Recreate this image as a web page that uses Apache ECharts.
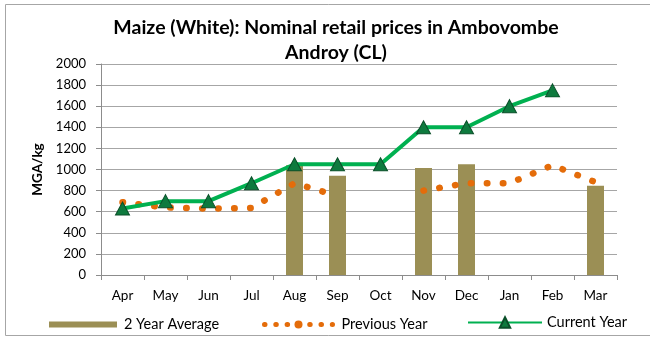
<!DOCTYPE html>
<html>
<head>
<meta charset="utf-8">
<script src="https://cdn.jsdelivr.net/npm/echarts@6/dist/echarts.min.js"></script>
<style>
  html, body { margin: 0; padding: 0; background: #fff; }
  #chart { width: 650px; height: 337px; }
</style>
</head>
<body>
<div id="chart"></div>
<script>
// Monthly retail prices of white maize, MGA per kg
const months = ['Apr', 'May', 'Jun', 'Jul', 'Aug', 'Sep', 'Oct', 'Nov', 'Dec', 'Jan', 'Feb', 'Mar'];
const twoYearAverage = [null, null, null, null, 1040, 940, null, 1015, 1050, null, null, 845];
const previousYear = [690, 640, 630, 635, 870, 750, null, 800, 870, 870, 1040, 880];
const currentYear = [630, 700, 700, 870, 1050, 1050, 1050, 1400, 1400, 1600, 1750, null];
const yTicks = { min: 0, max: 2000, interval: 200 };

const FONT = 'Lato, "Liberation Sans", sans-serif';
const chart = echarts.init(document.getElementById('chart'), null, { renderer: 'canvas' });

const legendText = { fontFamily: FONT, fontSize: 14.5, color: '#000' };

chart.setOption({
  backgroundColor: '#ffffff',
  animation: false,
  graphic: [{
    type: 'rect',
    shape: { x: 5.5, y: 4.5, width: 700, height: 331 },
    style: { fill: 'none', stroke: '#a6a6a6', lineWidth: 1 },
    silent: true
  }],
  title: {
    text: 'Maize (White): Nominal retail prices in Ambovombe\nAndroy (CL)',
    left: 331, top: 10, textAlign: 'center',
    textStyle: { fontFamily: FONT, fontWeight: 'bold', fontSize: 19.5, color: '#000', lineHeight: 25 }
  },
  grid: { left: 101, right: 33, top: 64, bottom: 62, containLabel: false },
  legend: [
    { data: [{ name: '2 Year Average', icon: 'rect' }], left: 44, top: 312, itemWidth: 68, itemHeight: 6,
      textStyle: Object.assign({ padding: [0, 0, 0, 2] }, legendText) },
    { data: ['Previous Year'], left: 257, top: 312, itemWidth: 68, itemHeight: 10,
      lineStyle: { width: 5, type: [0.5, 10.8], cap: 'round' },
      textStyle: Object.assign({ padding: [0, 0, 0, 4] }, legendText) },
    { data: ['Current Year'], left: 462, top: 310, itemWidth: 74, itemHeight: 13,
      textStyle: legendText }
  ],
  xAxis: {
    type: 'category',
    data: months,
    boundaryGap: true,
    axisLine: { lineStyle: { color: '#8c8c8c', width: 1 } },
    axisTick: { show: true, alignWithLabel: false, length: 5, lineStyle: { color: '#8c8c8c' } },
    axisLabel: { fontFamily: FONT, fontSize: 13.5, color: '#000', margin: 14 }
  },
  yAxis: {
    type: 'value',
    min: yTicks.min, max: yTicks.max, interval: yTicks.interval,
    name: 'MGA/kg',
    nameLocation: 'middle',
    nameGap: 56,
    nameRotate: 90,
    nameTextStyle: { fontFamily: FONT, fontWeight: 'bold', fontSize: 13.5, color: '#000' },
    axisLine: { show: true, lineStyle: { color: '#8c8c8c' } },
    axisTick: { show: true, length: 5, lineStyle: { color: '#8c8c8c' } },
    axisLabel: { fontFamily: FONT, fontSize: 13, color: '#000', margin: 15, formatter: v => String(v) },
    splitLine: { lineStyle: { color: '#a6a6a6', width: 1 } }
  },
  series: [
    {
      name: '2 Year Average',
      type: 'bar',
      data: twoYearAverage,
      barWidth: 17,
      itemStyle: { color: '#9b8f55' },
      z: 1
    },
    {
      name: 'Previous Year',
      type: 'line',
      data: previousYear,
      connectNulls: false,
      showSymbol: false,
      symbol: 'none',
      itemStyle: { color: '#e46c0a' },
      lineStyle: { color: '#e46c0a', width: 6.5, type: [0.5, 15.5], cap: 'round' },
      z: 2
    },
    {
      name: 'Current Year',
      type: 'line',
      data: currentYear,
      symbol: 'triangle',
      symbolSize: [14, 13],
      showSymbol: true,
      itemStyle: { color: '#0e7a3e', borderColor: '#0a4f29', borderWidth: 1 },
      lineStyle: { color: '#00b050', width: 4 },
      z: 3
    }
  ]
});
</script>
</body>
</html>
